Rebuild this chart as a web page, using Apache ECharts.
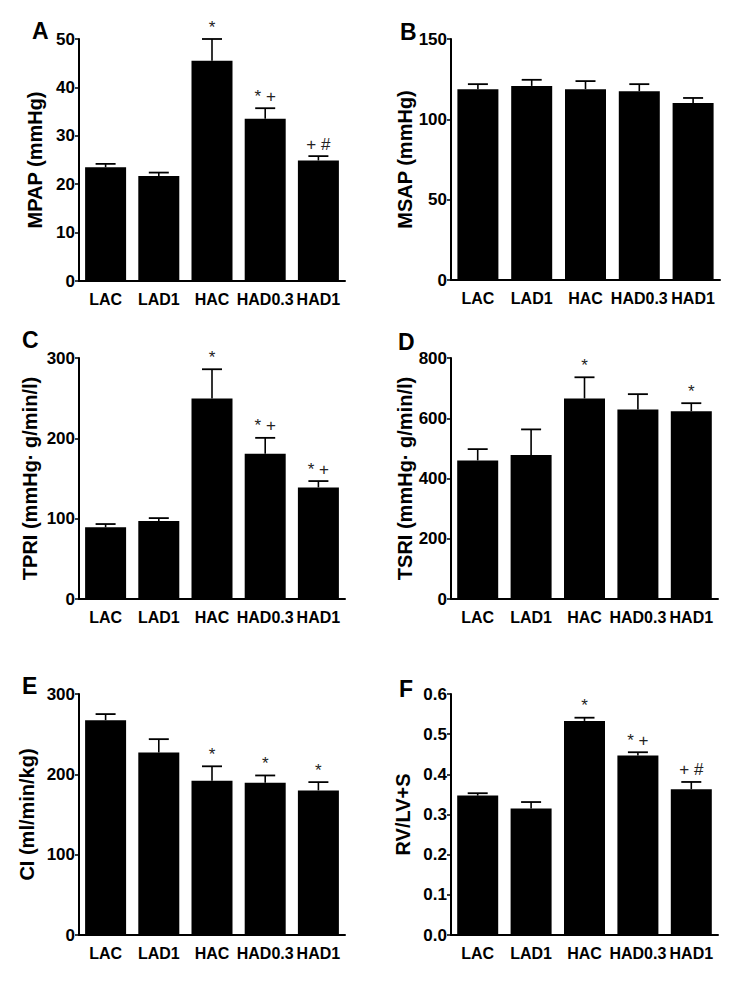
<!DOCTYPE html>
<html>
<head>
<meta charset="utf-8">
<script src="https://cdn.jsdelivr.net/npm/echarts@6/dist/echarts.min.js"></script>
<style>
html,body{margin:0;padding:0;background:#fff;}
#chart{width:750px;height:982px;}
</style>
</head>
<body>
<div id="chart"></div>
<script>
// ---- data ----
const categories = ['LAC', 'LAD1', 'HAC', 'HAD0.3', 'HAD1'];

const mpapMean = [23.5, 21.7, 45.5, 33.5, 24.9];
const mpapSem  = [0.7, 0.7, 4.5, 2.2, 0.9];
const mpapMarks = ['', '', '*', '* +', '+ #'];
const mpapTicks = [0, 10, 20, 30, 40, 50];

const msapMean = [118.8, 120.8, 118.8, 117.5, 110.2];
const msapSem  = [3.1, 3.8, 5.0, 4.4, 3.1];
const msapMarks = ['', '', '', '', ''];
const msapTicks = [0, 50, 100, 150];

const tpriMean = [89.2, 97.0, 249.6, 180.7, 138.9];
const tpriSem  = [4.1, 3.7, 36.4, 19.9, 7.9];
const tpriMarks = ['', '', '*', '* +', '* +'];
const tpriTicks = [0, 100, 200, 300];

const tsriMean = [460, 477.6, 665.7, 629, 623.5];
const tsriSem  = [37.5, 85.4, 70.3, 51, 26.5];
const tsriMarks = ['', '', '*', '', '*'];
const tsriTicks = [0, 200, 400, 600, 800];

const ciMean = [267.4, 227.2, 191.9, 189.4, 180.0];
const ciSem  = [7.6, 16.6, 18.1, 9.2, 10.3];
const ciMarks = ['', '', '*', '*', '*'];
const ciTicks = [0, 100, 200, 300];

const rvMean = [0.347, 0.315, 0.533, 0.447, 0.363];
const rvSem  = [0.006, 0.016, 0.008, 0.008, 0.018];
const rvMarks = ['', '', '*', '* +', '+ #'];
const rvTicks = [0.0, 0.1, 0.2, 0.3, 0.4, 0.5, 0.6];

const panelLetters = ['A', 'B', 'C', 'D', 'E', 'F'];
const axisNames = ['MPAP (mmHg)', 'MSAP (mmHg)', 'TPRI (mmHg\u00b7 g/min/l)', 'TSRI (mmHg\u00b7 g/min/l)', 'CI (ml/min/kg)', 'RV/LV+S'];

// ---- layout ----
const FONT = '"Liberation Sans", Arial, Helvetica, sans-serif';
const panels = [
  {mean: mpapMean, sem: mpapSem, marks: mpapMarks, ticks: mpapTicks, dec: 0,
   grid: {left: 79, top: 39, width: 266, height: 242}, gap: 34, letterPos: [32, 19]},
  {mean: msapMean, sem: msapSem, marks: msapMarks, ticks: msapTicks, dec: 0,
   grid: {left: 451, top: 39, width: 269, height: 241}, gap: 31, letterPos: [400, 20]},
  {mean: tpriMean, sem: tpriSem, marks: tpriMarks, ticks: tpriTicks, dec: 0,
   grid: {left: 79, top: 358, width: 266, height: 241}, gap: 39, letterPos: [22, 328]},
  {mean: tsriMean, sem: tsriSem, marks: tsriMarks, ticks: tsriTicks, dec: 0,
   grid: {left: 451, top: 358, width: 267, height: 241}, gap: 36, letterPos: [398, 330]},
  {mean: ciMean, sem: ciSem, marks: ciMarks, ticks: ciTicks, dec: 0,
   grid: {left: 79, top: 694, width: 266, height: 241}, gap: 42, letterPos: [22, 674]},
  {mean: rvMean, sem: rvSem, marks: rvMarks, ticks: rvTicks, dec: 1,
   grid: {left: 451, top: 694, width: 267, height: 241}, gap: 38, letterPos: [399, 677]}
];

const option = {
  animation: false,
  backgroundColor: '#fff',
  title: [], grid: [], xAxis: [], yAxis: [], series: []
};

panels.forEach((p, i) => {
  option.title.push({
    text: panelLetters[i], left: p.letterPos[0], top: p.letterPos[1], padding: 0,
    textStyle: {fontFamily: FONT, fontWeight: 'bold', fontSize: 23, color: '#000'}
  });
  option.grid.push(Object.assign({containLabel: false}, p.grid));
  option.xAxis.push({
    type: 'category', gridIndex: i, data: categories,
    axisLine: {lineStyle: {color: '#000', width: 2}},
    axisTick: {show: false},
    axisLabel: {interval: 0, margin: 10, color: '#000', fontFamily: FONT, fontWeight: 'bold', fontSize: 16, hideOverlap: false},
    splitLine: {show: false}
  });
  const t = p.ticks;
  option.yAxis.push({
    type: 'value', gridIndex: i,
    min: t[0], max: t[t.length - 1], interval: t[1] - t[0],
    name: axisNames[i], nameLocation: 'middle', nameGap: p.gap,
    nameTextStyle: {fontFamily: FONT, fontWeight: 'bold', fontSize: 20, color: '#000'},
    axisLine: {show: true, lineStyle: {color: '#000', width: 2}},
    axisTick: {show: true, length: 4, lineStyle: {color: '#000', width: 1.5}},
    axisLabel: {margin: 4, color: '#000', fontFamily: FONT, fontWeight: 'bold', fontSize: 17,
      formatter: v => v.toFixed(p.dec)},
    splitLine: {show: false}
  });
  option.series.push({
    type: 'bar', xAxisIndex: i, yAxisIndex: i, barWidth: 41,
    itemStyle: {color: '#000'}, data: p.mean, z: 2
  });
  const errData = p.mean.map((m, k) => [k, m, m + p.sem[k]]);
  option.series.push({
    type: 'custom', xAxisIndex: i, yAxisIndex: i, z: 3,
    encode: {x: 0, y: 2},
    data: errData,
    renderItem: (params, api) => {
      const k = api.value(0);
      const base = api.coord([k, api.value(1)]);
      const top = api.coord([k, api.value(2)]);
      const half = 10;
      const children = [
        {type: 'line', shape: {x1: top[0], y1: base[1], x2: top[0], y2: top[1]},
         style: {stroke: '#000', lineWidth: 1.6}},
        {type: 'line', shape: {x1: top[0] - half, y1: top[1], x2: top[0] + half, y2: top[1]},
         style: {stroke: '#000', lineWidth: 1.8}}
      ];
      const mark = p.marks[params.dataIndex];
      if (mark) {
        children.push({type: 'text', style: {
          text: mark, x: top[0], y: top[1] - 12, align: 'center', verticalAlign: 'middle',
          fontFamily: FONT, fontSize: 17, fill: '#222'
        }});
      }
      return {type: 'group', children: children};
    }
  });
});

const chart = echarts.init(document.getElementById('chart'), null, {renderer: 'svg', width: 750, height: 982});
chart.setOption(option);
</script>
</body>
</html>
